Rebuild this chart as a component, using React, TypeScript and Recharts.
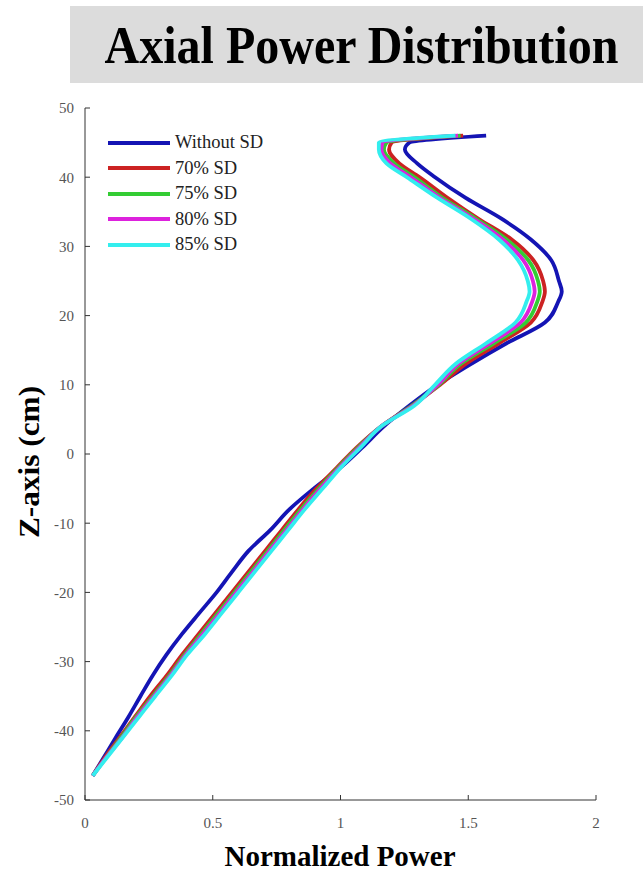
import { ScatterChart, Scatter, XAxis, YAxis } from "recharts";

// axial position (cm)
const zPos = [
  -46.5, -44, -41, -38, -35, -32, -29, -26, -23, -20, -17, -14, -11, -8, -5, -2,
  1, 4, 7, 10, 13, 16, 19, 22, 23.5, 25, 28, 31, 34, 37, 40, 42, 44, 45, 46,
];

const withoutSD = [
  0.03, 0.071, 0.12, 0.17, 0.217, 0.265, 0.319, 0.38, 0.447, 0.515, 0.576, 0.64,
  0.725, 0.8, 0.895, 0.999, 1.087, 1.17, 1.27, 1.38, 1.51, 1.65, 1.8, 1.852, 1.866,
  1.855, 1.825, 1.745, 1.63, 1.49, 1.37, 1.3, 1.252, 1.27, 1.57,
];
const sd70 = [
  0.03, 0.075, 0.135, 0.195, 0.255, 0.32, 0.38, 0.445, 0.51, 0.575, 0.64, 0.705,
  0.77, 0.835, 0.905, 0.985, 1.065, 1.16, 1.28, 1.39, 1.49, 1.62, 1.745, 1.79, 1.8,
  1.793, 1.755, 1.67, 1.54, 1.42, 1.31, 1.23, 1.19, 1.2, 1.48,
];
const sd75 = [
  0.03, 0.08, 0.14, 0.2, 0.265, 0.33, 0.39, 0.455, 0.52, 0.585, 0.65, 0.715,
  0.78, 0.845, 0.915, 0.99, 1.07, 1.16, 1.28, 1.385, 1.47, 1.6, 1.725, 1.77, 1.78,
  1.773, 1.735, 1.65, 1.53, 1.4, 1.29, 1.21, 1.17, 1.18, 1.47,
];
const sd80 = [
  0.03, 0.08, 0.145, 0.205, 0.27, 0.335, 0.395, 0.462, 0.528, 0.592, 0.658, 0.722,
  0.788, 0.853, 0.922, 0.995, 1.075, 1.16, 1.285, 1.38, 1.46, 1.585, 1.705, 1.75, 1.76,
  1.753, 1.715, 1.635, 1.52, 1.39, 1.275, 1.195, 1.16, 1.165, 1.46,
];
const sd85 = [
  0.03, 0.083, 0.147, 0.211, 0.275, 0.34, 0.4, 0.47, 0.535, 0.6, 0.665, 0.73,
  0.795, 0.86, 0.93, 1.0, 1.08, 1.16, 1.29, 1.37, 1.45, 1.57, 1.685, 1.728, 1.74,
  1.733, 1.695, 1.62, 1.51, 1.38, 1.26, 1.18, 1.15, 1.15, 1.45,
];

const xTicks = [0, 0.5, 1, 1.5, 2];
const yTicks = [-50, -40, -30, -20, -10, 0, 10, 20, 30, 40, 50];

const series = [
  { name: "Without SD", values: withoutSD, color: "#1414b4" },
  { name: "70% SD", values: sd70, color: "#cc2222" },
  { name: "75% SD", values: sd75, color: "#33cc33" },
  { name: "80% SD", values: sd80, color: "#dd22dd" },
  { name: "85% SD", values: sd85, color: "#33eeee" },
];

const serif = "'Liberation Serif', 'Times New Roman', serif";
const noDot = () => <g />;

export default function App() {
  return (
    <div style={{ position: "absolute", top: 0, left: 0, width: 643, height: 873, background: "#fff" }}>
      <div
        style={{
          position: "absolute",
          left: 70,
          top: 6,
          width: 573,
          height: 77,
          background: "#dcdcdc",
          display: "flex",
          alignItems: "center",
          justifyContent: "center",
          fontFamily: serif,
          fontWeight: "bold",
          fontSize: 48,
          color: "#000",
        }}
      >
        <span style={{ display: "inline-block", transform: "scaleY(1.12)", marginLeft: 10 }}>
          Axial Power Distribution
        </span>
      </div>
      <div style={{ position: "absolute", left: 0, top: 0 }}>
        <ScatterChart width={643} height={873} margin={{ top: 108, right: 47, bottom: 43, left: 45 }}>
          <XAxis
            type="number"
            dataKey="p"
            domain={[0, 2]}
            ticks={xTicks}
            stroke="#333"
            tickSize={-5}
            tickMargin={22}
            height={30}
            tick={{ fill: "#555", fontSize: 15, fontFamily: serif }}
          />
          <YAxis
            type="number"
            dataKey="z"
            domain={[-50, 50]}
            ticks={yTicks}
            stroke="#333"
            tickSize={-5}
            tickMargin={16}
            width={40}
            tick={{ fill: "#555", fontSize: 15, fontFamily: serif }}
          />
          {series.map((s) => (
            <Scatter
              key={s.name}
              name={s.name}
              data={zPos.map((z, i) => ({ z, p: s.values[i] }))}
              line={{ stroke: s.color, strokeWidth: 3.8 }}
              lineJointType="monotoneY"
              shape={noDot}
              fill={s.color}
              isAnimationActive={false}
            />
          ))}
        </ScatterChart>
      </div>
      <div style={{ position: "absolute", left: 108, top: 130, fontFamily: serif, fontSize: 18.5, color: "#222" }}>
        {series.map((s) => (
          <div key={s.name} style={{ display: "flex", alignItems: "center", height: 25.5 }}>
            <span style={{ width: 62, height: 4, background: s.color, marginRight: 5 }} />
            <span>{s.name}</span>
          </div>
        ))}
      </div>
      <div
        style={{
          position: "absolute",
          left: 29,
          top: 462,
          transform: "translate(-50%, -50%) rotate(-90deg) scaleX(1.08)",
          fontFamily: serif,
          fontWeight: "bold",
          fontSize: 29,
          whiteSpace: "nowrap",
        }}
      >
        Z-axis (cm)
      </div>
      <div
        style={{
          position: "absolute",
          left: 340,
          top: 856,
          transform: "translate(-50%, -50%)",
          fontFamily: serif,
          fontWeight: "bold",
          fontSize: 29,
          whiteSpace: "nowrap",
        }}
      >
        Normalized Power
      </div>
    </div>
  );
}
